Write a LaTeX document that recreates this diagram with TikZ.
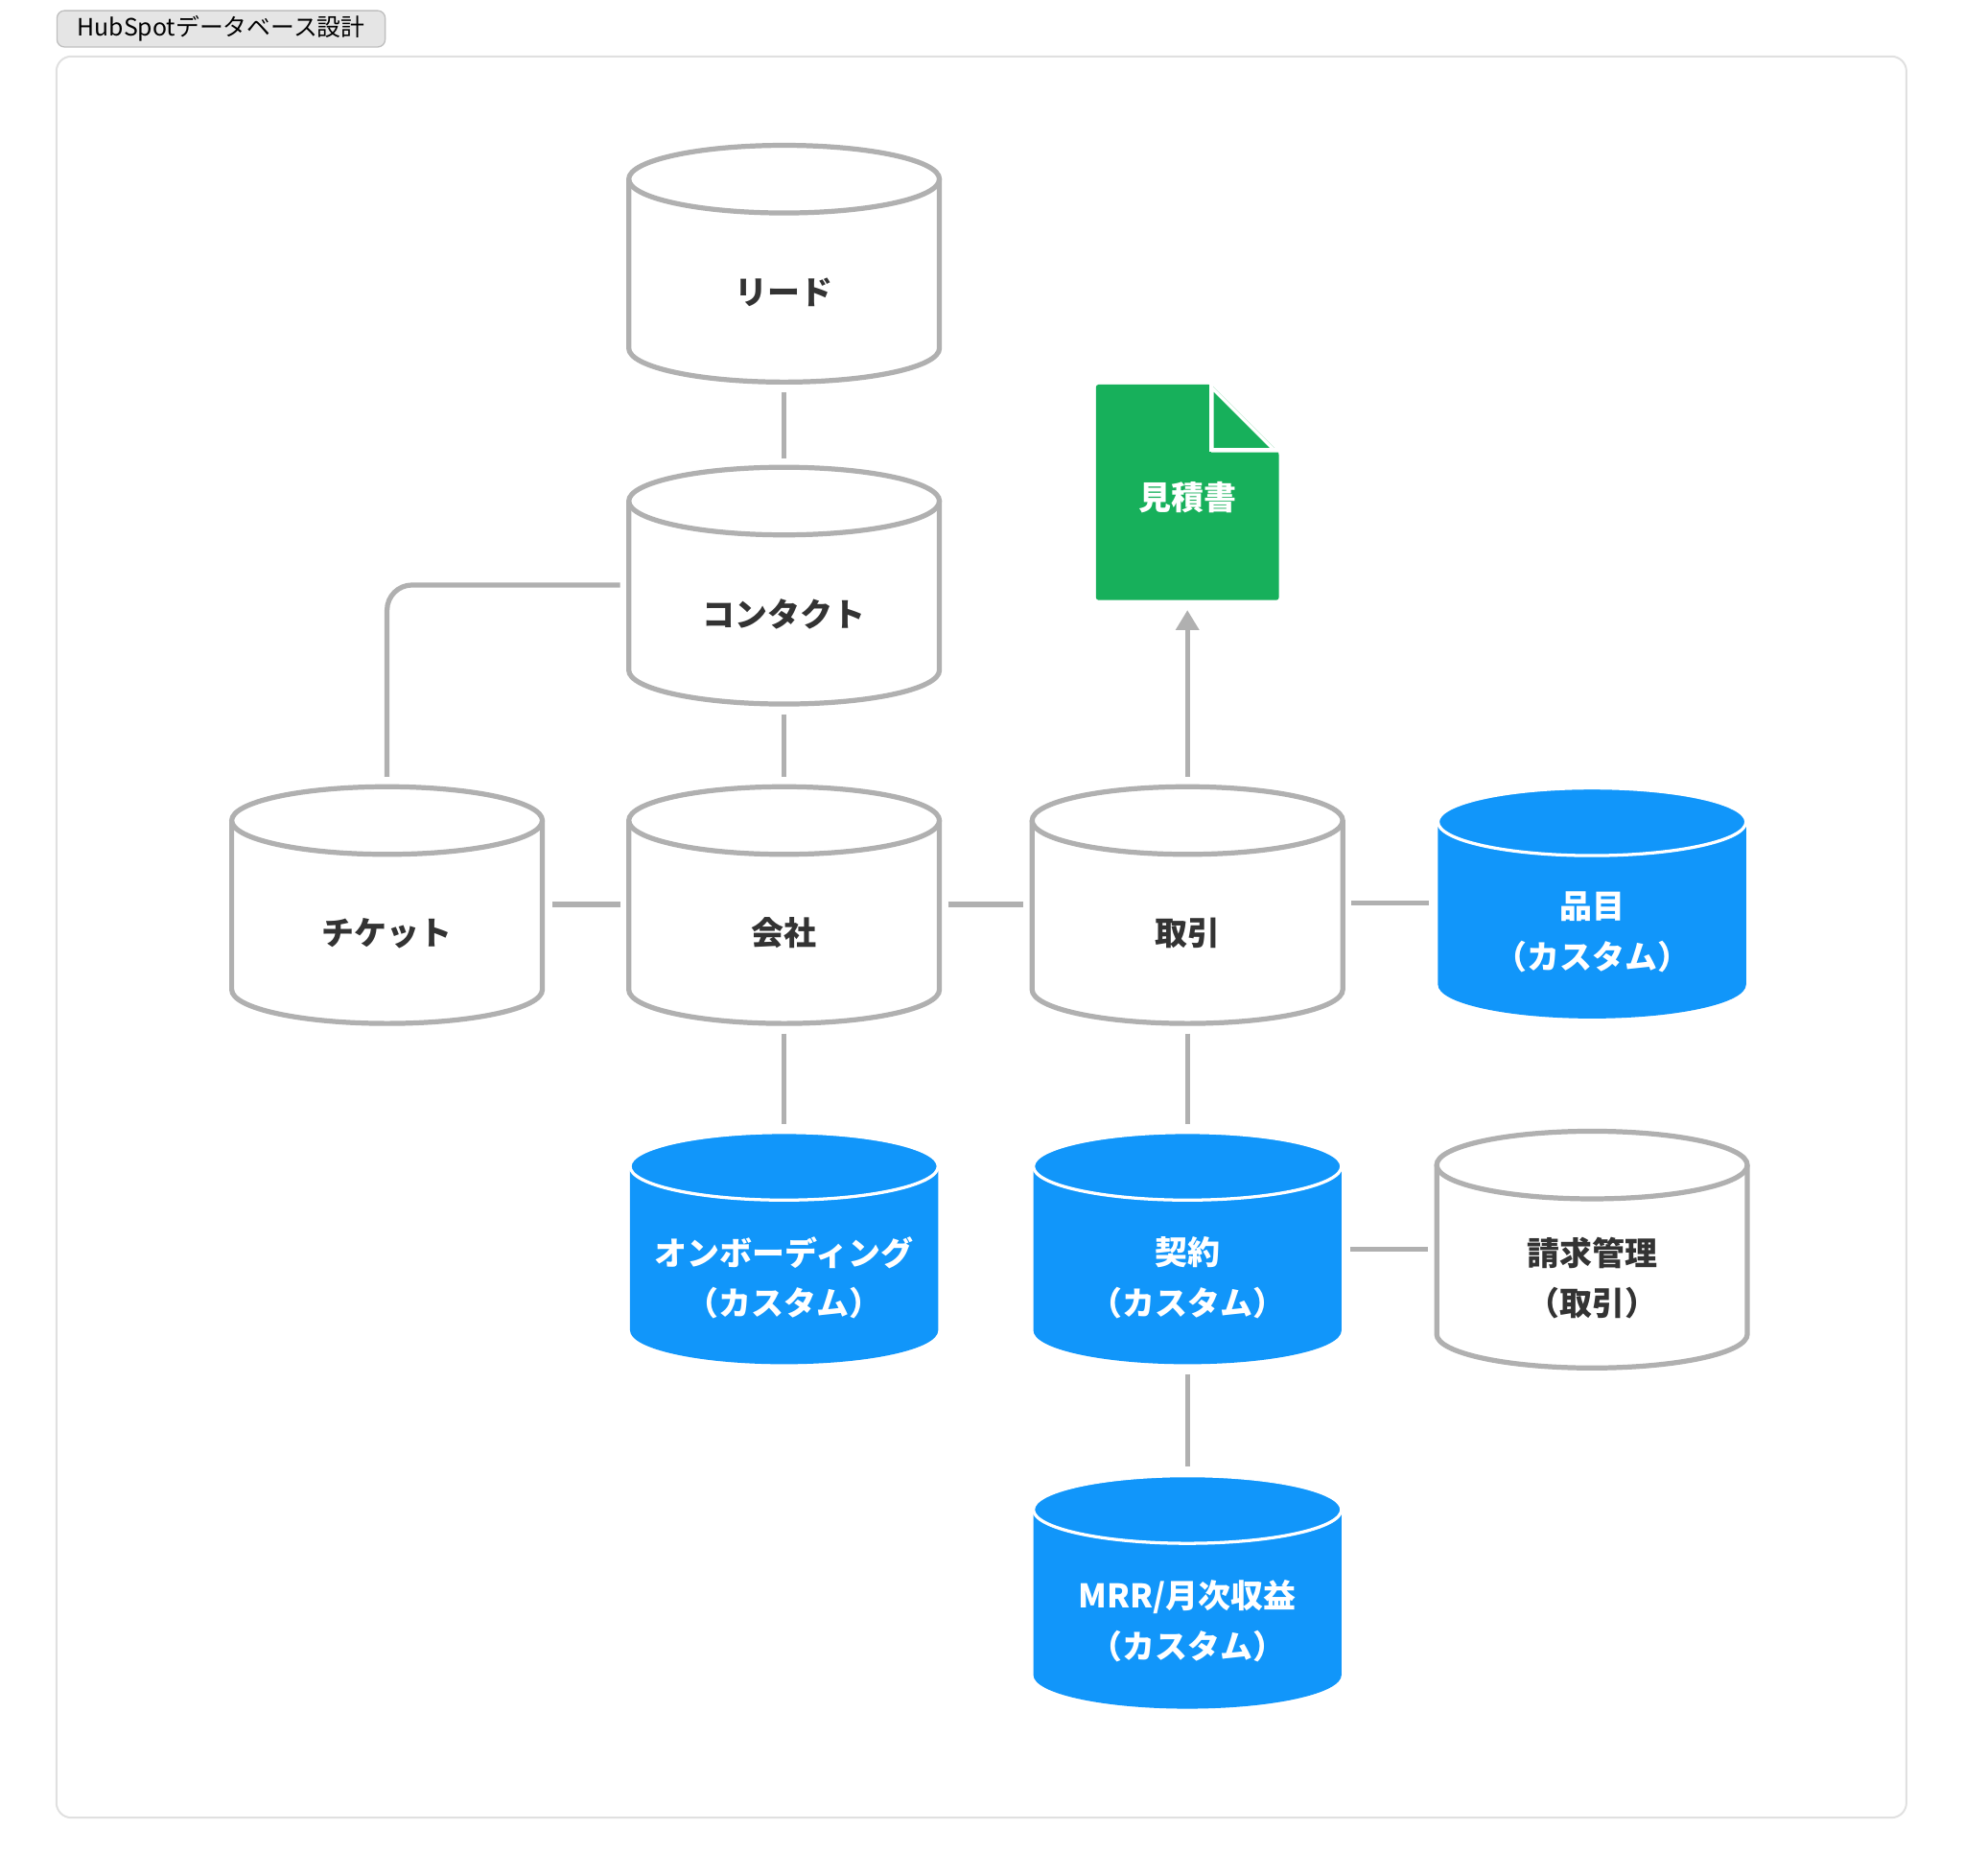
\documentclass[tikz,border=0pt]{standalone}
\usepackage{fontspec}
\setmainfont{Noto Sans CJK JP}
\usetikzlibrary{arrows.meta}
\definecolor{lg}{HTML}{B0B0B0}
\definecolor{bl}{HTML}{1196FA}
\definecolor{gr}{HTML}{17B05B}
\definecolor{tx}{HTML}{333333}
\tikzset{
 conn/.style={lg,line width=4pt},
 lbl/.style={font=\fontsize{26}{40}\selectfont\bfseries,align=center},
}
% cx, ytop, height, rx, ry
\newcommand\wcyl[5]{\begin{scope}[shift={(#1,#2)}]
 \draw[lg,line width=4pt,fill=white] (-#4,0) -- (-#4,#3) arc[start angle=180,end angle=360,x radius=#4pt,y radius=#5pt] -- (#4,0);
 \draw[lg,line width=4pt] (0,0) ellipse[x radius=#4pt,y radius=#5pt];
\end{scope}}
\newcommand\bcyl[5]{\begin{scope}[shift={(#1,#2)}]
 \fill[bl] (-#4,0) -- (-#4,#3) arc[start angle=180,end angle=360,x radius=#4pt,y radius=#5pt] -- (#4,0) -- cycle;
 \draw[white,line width=2.5pt,fill=bl] (0,0) ellipse[x radius=#4pt,y radius=#5pt];
\end{scope}}
\begin{document}
\begin{tikzpicture}[x=1pt,y=-1pt]
\useasboundingbox (0,0) rectangle (1568,1497);
\fill[white] (0,0) rectangle (1568,1497);
\draw[black!12,line width=1.5pt,rounded corners=12pt] (45,45) rectangle (1522,1451);
\node[draw=black!25,fill=black!10,line width=1pt,rounded corners=6pt,minimum width=262pt,minimum height=29pt,font=\fontsize{19}{22}\selectfont,anchor=north west] (title) at (45,8) {HubSpotデータベース設計};

\wcyl{626}{143}{135}{124}{27}
\wcyl{626}{400}{135}{124}{27}
\wcyl{309}{655}{135}{124}{27}
\wcyl{626}{655}{135}{124}{27}
\wcyl{948}{655}{135}{124}{27}
\wcyl{1271}{930}{135}{124}{27}
\bcyl{1271}{656}{130}{123}{27}
\bcyl{626}{931}{131}{123}{27}
\bcyl{948}{931}{131}{123}{27}
\bcyl{948}{1205}{132}{123}{27}

\fill[gr,rounded corners=2pt] (875,307) -- (967,307) -- (1021,361) -- (1021,479) -- (875,479) -- cycle;
\fill[white] (967,307) -- (1021,361) -- (967,361) -- cycle;
\fill[gr] (969,313) -- (1015,359) -- (969,359) -- cycle;
\draw[white,line width=3pt] (967,307) -- (967,359) -- (1021,359);

\node[lbl,tx] (lead) at (626,233) {リード};
\node[lbl,tx] (contact) at (626,490) {コンタクト};
\node[lbl,tx] (ticket) at (309,745) {チケット};
\node[lbl,tx] (company) at (626,745) {会社};
\node[lbl,tx] (deal) at (948,745) {取引};
\node[lbl,white] (item) at (1271,744) {品目\\（カスタム）};
\node[lbl,white] (onb) at (626,1020) {オンボーディング\\（カスタム）};
\node[lbl,white] (contract) at (948,1020) {契約\\（カスタム）};
\node[lbl,tx] (billing) at (1271,1020) {請求管理\\（取引）};
\node[lbl,white] (mrr) at (948,1294) {MRR/月次収益\\（カスタム）};
\node[lbl,white] (quote) at (948,397) {見積書};

\coordinate (a1) at (626,313); \coordinate (a2) at (626,366);
\coordinate (b1) at (626,570); \coordinate (b2) at (626,620);
\coordinate (c1) at (495,467); \coordinate (c2) at (309,620);
\coordinate (d1) at (441,722); \coordinate (d2) at (495,722);
\coordinate (e1) at (757,722); \coordinate (e2) at (817,722);
\coordinate (f1) at (1079,721); \coordinate (f2) at (1141,721);
\coordinate (g1) at (948,620); \coordinate (g2) at (948,487);
\coordinate (h1) at (626,825); \coordinate (h2) at (626,897);
\coordinate (i1) at (948,825); \coordinate (i2) at (948,897);
\coordinate (j1) at (1078,997); \coordinate (j2) at (1140,997);
\coordinate (k1) at (948,1097); \coordinate (k2) at (948,1171);
\draw[conn] (a1) -- (a2);
\draw[conn] (b1) -- (b2);
\draw[conn,rounded corners=20pt] (c1) -- (309,467) -- (c2);
\draw[conn] (d1) -- (d2);
\draw[conn] (e1) -- (e2);
\draw[conn] (f1) -- (f2);
\draw[conn,-{Triangle[length=16pt,width=18pt]}] (g1) -- (g2);
\draw[conn] (h1) -- (h2);
\draw[conn] (i1) -- (i2);
\draw[conn] (j1) -- (j2);
\draw[conn] (k1) -- (k2);
\end{tikzpicture}
\end{document}
